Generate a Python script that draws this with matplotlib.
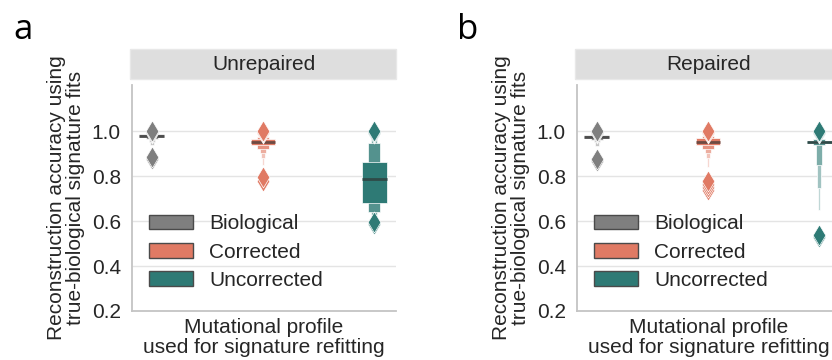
import matplotlib
matplotlib.use("Agg")
import matplotlib.pyplot as plt
from matplotlib.patches import Patch, Rectangle
from matplotlib.colors import to_rgb

plt.rcParams["font.family"] = ["Liberation Sans", "DejaVu Sans"]
plt.rcParams["font.size"] = 15
plt.rcParams["text.color"] = "#262626"
plt.rcParams["axes.labelcolor"] = "#262626"
plt.rcParams["ytick.color"] = "#262626"

# ---- data -------------------------------------------------------------
groups = ["Biological", "Corrected", "Uncorrected"]
panels = ["Unrepaired", "Repaired"]
panel_letters = ["a", "b"]
yticks = [0.2, 0.4, 0.6, 0.8, 1.0]

# letter-value boxes (innermost first), medians and outliers per group
unrep_bio_median = 0.980
unrep_bio_boxes = [(0.975, 0.986), (0.966, 0.990), (0.953, 0.993), (0.940, 0.995)]
unrep_bio_out = [0.878, 0.885, 0.990, 0.996, 1.000]

unrep_cor_median = 0.950
unrep_cor_boxes = [(0.936, 0.966), (0.922, 0.975), (0.904, 0.982), (0.880, 0.988), (0.850, 0.992)]
unrep_cor_out = [0.780, 0.795, 0.990, 0.996, 1.000]

unrep_unc_median = 0.787
unrep_unc_boxes = [(0.680, 0.862), (0.640, 0.947), (0.628, 0.987)]
unrep_unc_out = [0.585, 0.595, 0.990, 0.996, 1.000]

rep_bio_median = 0.975
rep_bio_boxes = [(0.969, 0.984), (0.960, 0.989), (0.950, 0.993), (0.935, 0.995)]
rep_bio_out = [0.868, 0.877, 0.990, 0.996, 1.000]

rep_cor_median = 0.953
rep_cor_boxes = [(0.938, 0.969), (0.920, 0.978), (0.902, 0.985), (0.880, 0.991), (0.840, 0.994)]
rep_cor_out = [0.740, 0.752, 0.765, 0.778, 0.990, 0.996, 1.000]

rep_unc_median = 0.950
rep_unc_boxes = [(0.945, 0.957), (0.936, 0.966), (0.849, 0.975), (0.747, 0.983), (0.650, 0.990)]
rep_unc_out = [0.527, 0.540, 0.990, 0.996, 1.000]

panel_data = [
    [(unrep_bio_median, unrep_bio_boxes, unrep_bio_out),
     (unrep_cor_median, unrep_cor_boxes, unrep_cor_out),
     (unrep_unc_median, unrep_unc_boxes, unrep_unc_out)],
    [(rep_bio_median, rep_bio_boxes, rep_bio_out),
     (rep_cor_median, rep_cor_boxes, rep_cor_out),
     (rep_unc_median, rep_unc_boxes, rep_unc_out)],
]

colors = ["#7f7f7f", "#e07a64", "#2e7a75"]

# ---- helpers ----------------------------------------------------------
def lighten(c, f):
    r, g, b = to_rgb(c)
    return (r + (1 - r) * f, g + (1 - g) * f, b + (1 - b) * f)

def darken(c, f):
    r, g, b = to_rgb(c)
    d = to_rgb("#303030")
    return (r + (d[0] - r) * f, g + (d[1] - g) * f, b + (d[2] - b) * f)

base_width = 0.225
light_steps = [0.0, 0.18, 0.38, 0.55, 0.7, 0.8]

W, H = 832, 360
fig = plt.figure(figsize=(W / 100, H / 100), dpi=100)

ax_left_px = [132, 577]
ax_top_px, ax_bot_px, ax_w_px = 85, 311, 264

for p, (title, letter) in enumerate(zip(panels, panel_letters)):
    ax = fig.add_axes([ax_left_px[p] / W, 1 - ax_bot_px / H,
                       ax_w_px / W, (ax_bot_px - ax_top_px) / H])
    ax.set_xlim(-0.18, 2.198)
    ax.set_ylim(0.2, 1.205)
    ax.set_yticks(yticks)
    ax.set_yticklabels([f"{t:.1f}" for t in yticks])
    ax.set_xticks([])
    ax.tick_params(axis="y", length=0, pad=8)
    ax.grid(axis="y", color="#e4e4e4", linewidth=1.0, zorder=0)
    ax.set_axisbelow(True)
    for side in ["top", "right"]:
        ax.spines[side].set_visible(False)
    for side in ["left", "bottom"]:
        ax.spines[side].set_color("#c4c4c4")
        ax.spines[side].set_linewidth(1.3)

    for i, (median, boxes, outliers) in enumerate(panel_data[p]):
        c = colors[i]
        # outer (narrow, tall) boxes first so inner ones sit on top
        for k in range(len(boxes) - 1, -1, -1):
            lo, hi = boxes[k]
            w = base_width * 0.5 ** k
            ax.bar(i, hi - lo, bottom=lo, width=w, color=lighten(c, light_steps[k]),
                   edgecolor="white", linewidth=0.5, zorder=2)
        ax.hlines(median, i - base_width / 2, i + base_width / 2,
                  color=darken(c, 0.65), linewidth=2.0, zorder=3)
        ax.scatter([i] * len(outliers), sorted(outliers), marker="d", s=115,
                   color=c, edgecolor="white", linewidth=0.5, zorder=4)

    # facet strip
    ax.add_patch(Rectangle((-0.008, 1 + 6 / 226), 1.008, 30 / 226,
                           transform=ax.transAxes, clip_on=False,
                           facecolor="#dedede", edgecolor="#e8e8e8", linewidth=1))
    ax.text(0.5, 1 + 21 / 226, title, transform=ax.transAxes,
            ha="center", va="center")

    ax.set_xlabel("Mutational profile\nused for signature refitting", labelpad=5,
                  linespacing=1.05)
    ax.set_ylabel("Reconstruction accuracy using\ntrue-biological signature fits",
                  labelpad=5, linespacing=1.0)

    handles = [Patch(facecolor=c, edgecolor="#4a4a4a", linewidth=1.0) for c in colors]
    ax.legend(handles, groups, loc="center left", bbox_to_anchor=(0.064, 0.261),
              frameon=False, borderpad=0, borderaxespad=0, handlelength=2.1,
              handleheight=0.7, handletextpad=0.8, labelspacing=0.45)

    fig.text((13 if p == 0 else 457) / W, 1 - 39 / H, letter, fontsize=25,
             family="Open Sans", va="baseline", ha="left", color="black")

fig.savefig("out.png", dpi=100)
